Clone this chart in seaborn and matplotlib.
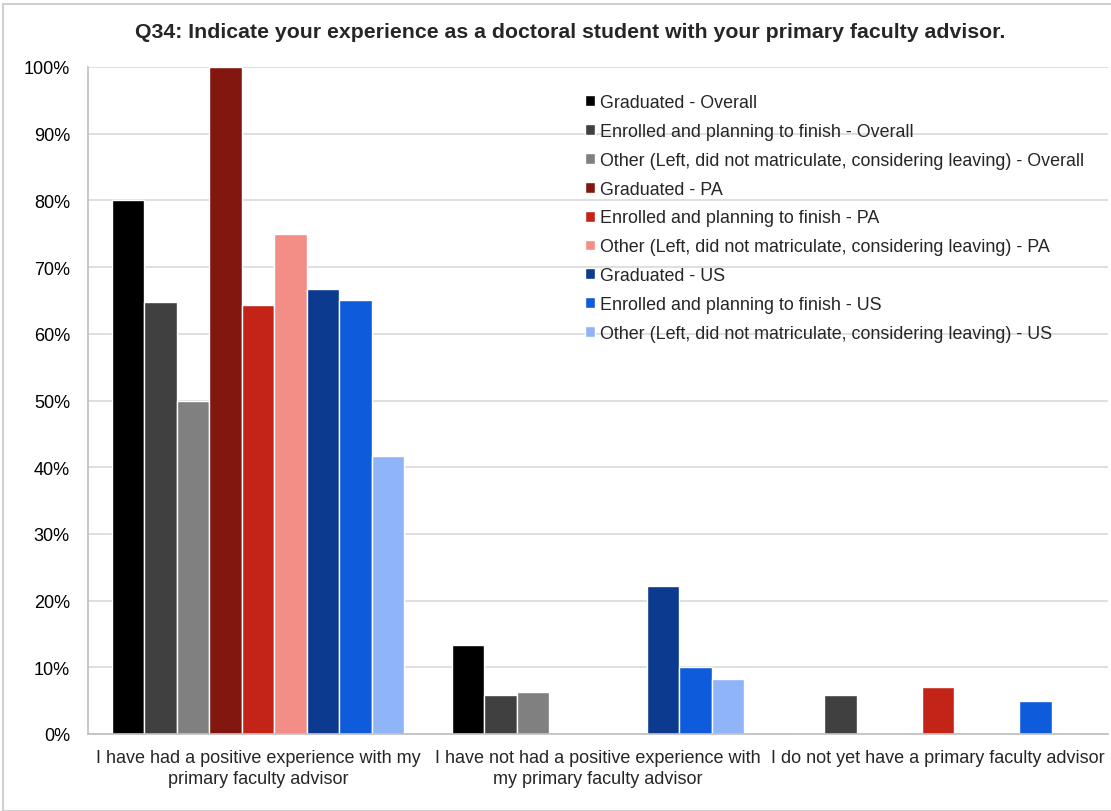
import matplotlib
matplotlib.use("Agg")
import matplotlib.pyplot as plt
import matplotlib.font_manager as fm
from matplotlib.patches import Rectangle
from matplotlib.ticker import PercentFormatter
import seaborn as sns
import pandas as pd

categories = [
    "I have had a positive experience with my\nprimary faculty advisor",
    "I have not had a positive experience with\nmy primary faculty advisor",
    "I do not yet have a primary faculty advisor",
]
series = [
    "Graduated - Overall",
    "Enrolled and planning to finish - Overall",
    "Other (Left, did not matriculate, considering leaving) - Overall",
    "Graduated - PA",
    "Enrolled and planning to finish - PA",
    "Other (Left, did not matriculate, considering leaving) - PA",
    "Graduated - US",
    "Enrolled and planning to finish - US",
    "Other (Left, did not matriculate, considering leaving) - US",
]
# percentage of respondents per category, one list per series
graduated_overall = [80.0, 13.3, 0.0]
enrolled_overall = [64.8, 5.9, 5.9]
other_overall = [50.0, 6.25, 0.0]
graduated_pa = [100.0, 0.0, 0.0]
enrolled_pa = [64.3, 0.0, 7.1]
other_pa = [75.0, 0.0, 0.0]
graduated_us = [66.7, 22.2, 0.0]
enrolled_us = [65.0, 10.0, 5.0]
other_us = [41.7, 8.3, 0.0]

colors = ["#000000", "#404040", "#808080",
          "#82170F", "#C42318", "#F28E86",
          "#0B3A8E", "#0E5BDC", "#8FB4F8"]

values = [graduated_overall, enrolled_overall, other_overall,
          graduated_pa, enrolled_pa, other_pa,
          graduated_us, enrolled_us, other_us]
rows = []
for s, vals in zip(series, values):
    for c, v in zip(categories, vals):
        rows.append({"category": c, "series": s, "pct": v})
df = pd.DataFrame(rows)

sns.set_theme(style="white")
installed = {f.name for f in fm.fontManager.ttflist}
narrow = "Liberation Sans Narrow" if "Liberation Sans Narrow" in installed else "Liberation Sans"
plt.rcParams["font.family"] = ["Liberation Sans", "DejaVu Sans"]

fig = plt.figure(figsize=(11.11, 8.12), dpi=100)
ax = fig.add_axes([88 / 1111, 1 - 735 / 812, 1020 / 1111, 667 / 812])

sns.barplot(data=df, x="category", y="pct", hue="series", hue_order=series,
            order=categories, palette=colors, width=0.86, gap=0,
            saturation=1, ax=ax, legend=True)

ax.set_ylim(0, 100)
ax.set_xlim(-0.5, 2.5)
ax.set_yticks(range(0, 101, 10))
ax.yaxis.set_major_formatter(PercentFormatter(decimals=0))
ax.yaxis.grid(True, color="#D9D9D9", linewidth=1.2)
ax.set_axisbelow(True)
ax.set_xlabel("")
ax.set_ylabel("")
for side in ["top", "right"]:
    ax.spines[side].set_visible(False)
for side in ["left", "bottom"]:
    ax.spines[side].set_color("#BFBFBF")
    ax.spines[side].set_linewidth(1.2)
ax.tick_params(axis="y", labelsize=13, colors="#000000", pad=13, length=0)
ax.tick_params(axis="x", length=0, pad=11)
for lab in ax.get_xticklabels():
    lab.set_fontfamily(narrow)
    lab.set_fontsize(13)
    lab.set_linespacing(1.3)

leg = ax.legend(loc="upper left", bbox_to_anchor=(490 / 1020, 0.97),
                frameon=False, fontsize=12.9, handlelength=0.55,
                handleheight=0.55, handletextpad=0.25, labelspacing=0.66,
                borderaxespad=0)

fig.text(0.513, 1 - 32 / 812,
         "Q34: Indicate your experience as a doctoral student with your primary faculty advisor.",
         ha="center", va="center", fontsize=15.3, fontweight="bold",
         fontfamily=narrow)

fig.patches.append(Rectangle((3 / 1111, 0), 1.0, 1 - 5 / 812,
                             transform=fig.transFigure, fill=False,
                             edgecolor="#D0D0D0", linewidth=1.5))

fig.savefig("out.png", dpi=100)
